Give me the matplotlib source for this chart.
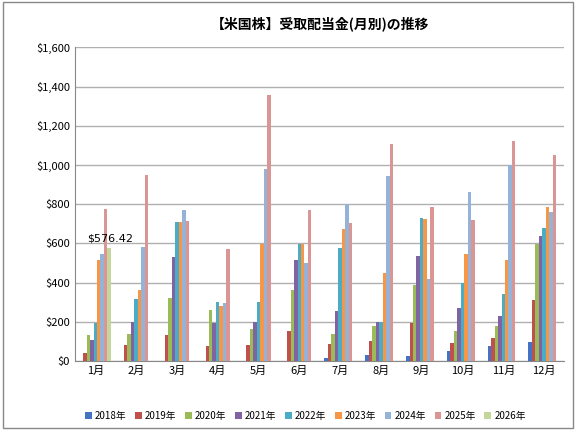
import matplotlib.pyplot as plt
import numpy as np
from matplotlib.ticker import FuncFormatter

plt.rcParams['font.family'] = ['Noto Sans CJK JP', 'DejaVu Sans']

months = ['1月', '2月', '3月', '4月', '5月', '6月', '7月', '8月', '9月', '10月', '11月', '12月']
years = ['2018年', '2019年', '2020年', '2021年', '2022年', '2023年', '2024年', '2025年', '2026年']
colors = ['#4472c4', '#c0504d', '#9bbb59', '#8064a2', '#4bacc6', '#f79646',
          '#95b3d7', '#d99694', '#c4d79b']

y2018 = [0, 0, 0, 0, 0, 0, 15, 30, 25, 50, 75, 100]
y2019 = [40, 85, 135, 80, 85, 155, 90, 105, 195, 95, 120, 310]
y2020 = [135, 140, 320, 260, 165, 365, 140, 180, 390, 155, 180, 595]
y2021 = [110, 200, 530, 195, 200, 515, 255, 200, 535, 270, 230, 640]
y2022 = [195, 315, 710, 300, 300, 595, 575, 200, 730, 400, 340, 680]
y2023 = [515, 365, 710, 280, 595, 595, 675, 450, 725, 545, 515, 785]
y2024 = [545, 580, 770, 295, 980, 500, 800, 945, 420, 860, 1000, 760]
y2025 = [775, 950, 715, 570, 1355, 770, 705, 1105, 785, 720, 1120, 1050]
y2026 = [576.42, 0, 0, 0, 0, 0, 0, 0, 0, 0, 0, 0]
series = [y2018, y2019, y2020, y2021, y2022, y2023, y2024, y2025, y2026]

fig = plt.figure(figsize=(5.76, 4.30), dpi=100)
ax = fig.add_axes([0.13, 0.16, 0.85, 0.73])

x = np.arange(len(months))
w = 0.085
for i, (vals, c, lab) in enumerate(zip(series, colors, years)):
    offs = (i - 4) * w
    ax.bar(x + offs, vals, w, color=c, label=lab, zorder=3)

ax.text(x[0] - 0.2, 600, '$576.42', fontsize=8, ha='left', va='bottom', family='DejaVu Sans')

ax.set_ylim(0, 1600)
ax.set_yticks(range(0, 1601, 200))
ax.yaxis.set_major_formatter(FuncFormatter(lambda v, p: f'${v:,.0f}'))
ax.set_xlim(-0.5, 11.5)
ax.set_xticks(x)
ax.set_xticklabels(months)
ax.tick_params(labelsize=8, length=0)
ax.grid(axis='y', color='#b0b0b0', linewidth=1, zorder=0)
for s in ['top', 'right']:
    ax.spines[s].set_visible(False)
ax.spines['left'].set_color('#888888')
ax.spines['bottom'].set_color('#888888')

ax.set_title('【米国株】受取配当金(月別)の推移', fontsize=10, fontweight='bold', pad=14)
fig.legend(loc='lower center', ncol=9, fontsize=7, frameon=False, handlelength=0.7,
           handletextpad=0.3, columnspacing=0.9, bbox_to_anchor=(0.53, 0.0))
fig.patches.append(plt.Rectangle((0.005, 0.005), 0.99, 0.99, transform=fig.transFigure,
                                 fill=False, edgecolor='#888888', linewidth=1))
fig.savefig('out.png', dpi=100)
